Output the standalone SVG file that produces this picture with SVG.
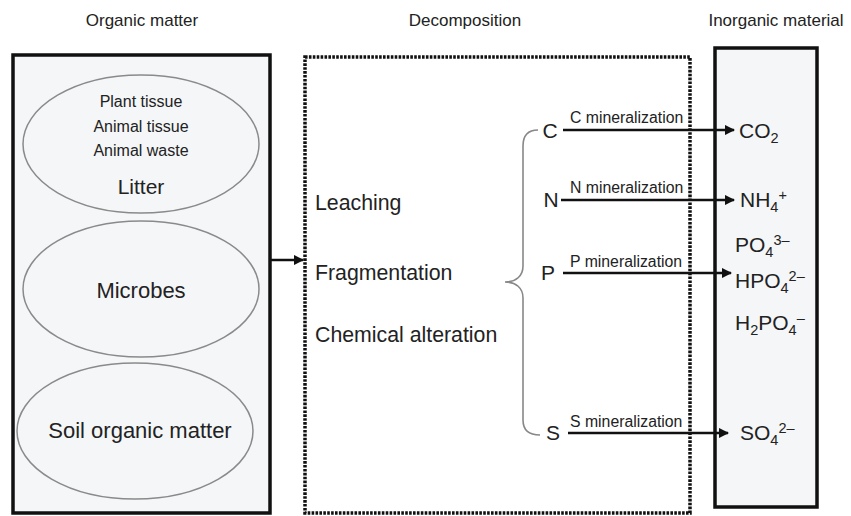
<svg xmlns="http://www.w3.org/2000/svg" width="851" height="516" viewBox="0 0 851 516">
  <style>
    text { font-family: "Liberation Sans", Arial, sans-serif; fill: #222; }
    .title { font-size: 17px; text-anchor: middle; }
    .big { font-size: 21.3px; }
    .mid { font-size: 16px; text-anchor: middle; }
    .lbl { font-size: 15.8px; }
    .el { font-size: 21px; text-anchor: middle; }
    .ion { font-size: 21px; }
    .sub { font-size: 14.5px; }
    .solid { fill: #f4f6f8; stroke: #111; stroke-width: 3.5; }
    .dotted { fill: #fff; stroke: #111; stroke-width: 3.5; stroke-dasharray: 2.6 1.3; }
    .oval { fill: none; stroke: #8a8a8a; stroke-width: 1.5; }
    .link { stroke: #111; stroke-width: 2.5; fill: none; marker-end: url(#head); }
    .brace { fill: none; stroke: #888; stroke-width: 1.6; }
  </style>
  <defs>
    <marker id="head" viewBox="0 0 10 10" refX="9" refY="5" markerWidth="4.2" markerHeight="4.2" orient="auto" markerUnits="strokeWidth">
      <path d="M0,0 L10,5 L0,10 z" fill="#111"/>
    </marker>
  </defs>
  <rect width="851" height="516" fill="#fff"/>

  <!-- column headings -->
  <text class="title" x="142" y="26">Organic matter</text>
  <text class="title" x="465" y="26">Decomposition</text>
  <text class="title" x="776" y="26">Inorganic material</text>

  <!-- organic matter pool -->
  <g id="organic">
    <rect class="solid" x="13" y="55" width="257" height="458"/>
    <g id="litter">
      <ellipse class="oval" cx="141" cy="144" rx="118" ry="69"/>
      <text class="mid" x="141" y="107">Plant tissue</text>
      <text class="mid" x="141" y="132">Animal tissue</text>
      <text class="mid" x="141" y="156">Animal waste</text>
      <text class="el" x="141" y="194">Litter</text>
    </g>
    <g id="microbes">
      <ellipse class="oval" cx="141" cy="289" rx="118" ry="68"/>
      <text class="el" x="141" y="298" style="font-size:22px">Microbes</text>
    </g>
    <g id="soil">
      <ellipse class="oval" cx="135" cy="431" rx="118" ry="68"/>
      <text class="el" x="140" y="438" style="font-size:22px">Soil organic matter</text>
    </g>
  </g>

  <!-- decomposition processes -->
  <g id="decomposition">
    <rect class="dotted" x="305" y="57" width="385" height="456"/>
    <text class="big" x="315" y="210">Leaching</text>
    <text class="big" x="315" y="280">Fragmentation</text>
    <text class="big" x="315" y="342">Chemical alteration</text>
    <path class="brace" d="M538,130 C527,130 523,136 523,146 L523,266 C523,276 516,282 505,282 C516,282 523,288 523,298 L523,420 C523,430 528,435 540,435"/>
    <text class="el" x="550" y="138">C</text>
    <text class="el" x="551" y="207">N</text>
    <text class="el" x="548" y="280">P</text>
    <text class="el" x="553" y="440">S</text>
  </g>

  <!-- inorganic products -->
  <g id="inorganic">
    <rect class="solid" x="715" y="48" width="102" height="459"/>
    <text class="ion" x="739" y="138">CO<tspan class="sub" dy="5">2</tspan></text>
    <text class="ion" x="740" y="207">NH<tspan class="sub" dy="5">4</tspan><tspan class="sub" dy="-12">+</tspan></text>
    <text class="ion" x="735" y="252">PO<tspan class="sub" dy="5">4</tspan><tspan class="sub" dy="-12">3–</tspan></text>
    <text class="ion" x="735" y="288">HPO<tspan class="sub" dy="5">4</tspan><tspan class="sub" dy="-12">2–</tspan></text>
    <text class="ion" x="735" y="330">H<tspan class="sub" dy="5">2</tspan><tspan dy="-5">PO</tspan><tspan class="sub" dy="5">4</tspan><tspan class="sub" dy="-12">–</tspan></text>
    <text class="ion" x="740" y="440">SO<tspan class="sub" dy="5">4</tspan><tspan class="sub" dy="-12">2–</tspan></text>
  </g>

  <!-- connectors -->
  <g id="connectors">
    <line class="link" x1="271" y1="260" x2="303" y2="260"/>
    <line class="link" x1="563" y1="130" x2="734" y2="130"/>
    <line class="link" x1="561" y1="200" x2="734" y2="200"/>
    <line class="link" x1="563" y1="273" x2="731" y2="273"/>
    <line class="link" x1="568" y1="433" x2="728" y2="433"/>
    <text class="lbl" x="570" y="123">C mineralization</text>
    <text class="lbl" x="570" y="193">N mineralization</text>
    <text class="lbl" x="570" y="267">P mineralization</text>
    <text class="lbl" x="570" y="427">S mineralization</text>
  </g>
</svg>
